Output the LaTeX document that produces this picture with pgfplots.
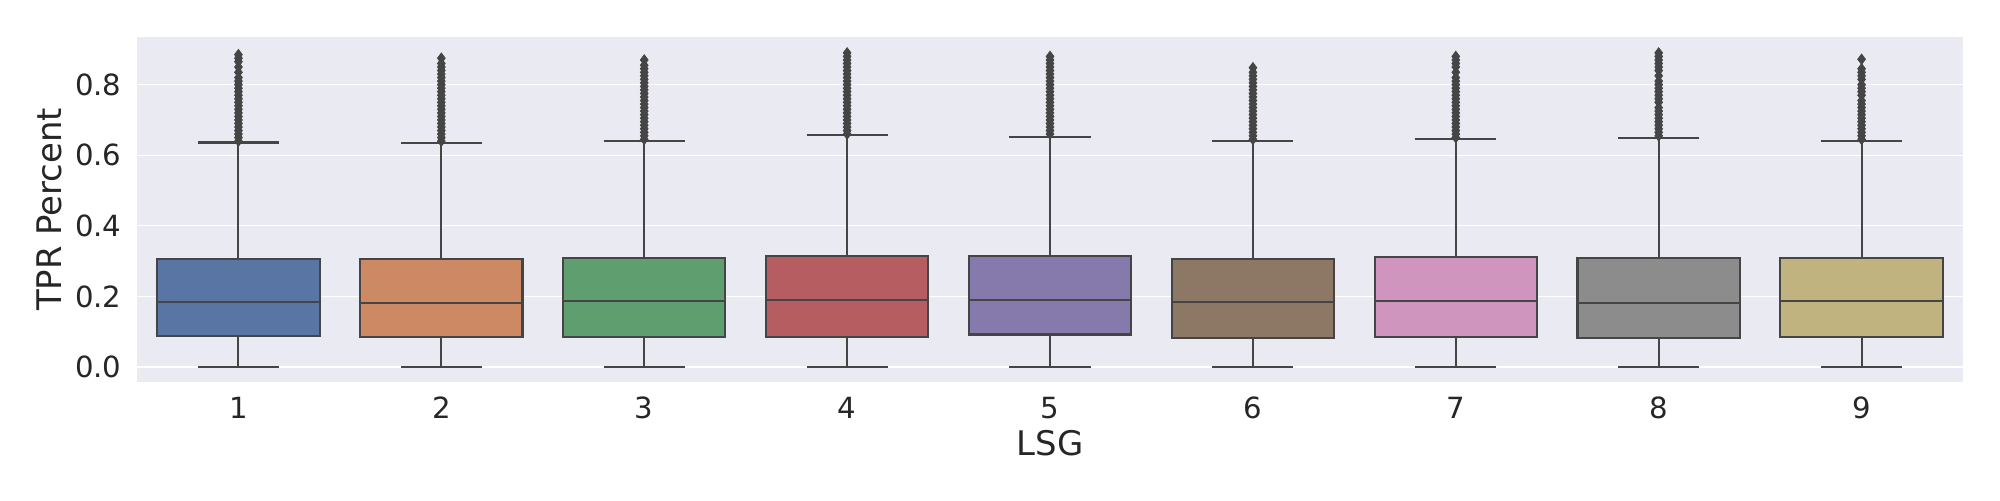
\documentclass[border=0pt]{standalone}
\usepackage{pgfplots}
\pgfplotsset{compat=1.18}
\usepgfplotslibrary{statistics}
\usepackage{fontspec}
\setmainfont{DejaVu Sans}

\definecolor{bgc}{HTML}{EAEAF2}
\definecolor{linec}{HTML}{454545}
\definecolor{c1}{HTML}{5975A4}
\definecolor{c2}{HTML}{CC8963}
\definecolor{c3}{HTML}{5F9E6E}
\definecolor{c4}{HTML}{B55D60}
\definecolor{c5}{HTML}{857AAB}
\definecolor{c6}{HTML}{8D7866}
\definecolor{c7}{HTML}{D095BF}
\definecolor{c8}{HTML}{8C8C8C}
\definecolor{c9}{HTML}{C1B37F}

\pgfplotsset{
    sbox/.style={
        draw=linec, line width=0.75pt, fill=#1,
        mark=diamond*, mark size=1.85pt,
        mark options={fill=linec, draw=linec, line width=0.3pt},
        boxplot/draw direction=y,
        boxplot/box extend=0.8,
        boxplot/whisker extend=0.4,
    },
}

\begin{document}
\begin{tikzpicture}
\begin{axis}[
    scale only axis,
    width=657.36pt, height=124.2pt,
    xmin=0.5, xmax=9.5,
    ymin=-0.0425, ymax=0.935,
    xtick={1,2,3,4,5,6,7,8,9},
    ytick={0,0.2,0.4,0.6,0.8},
    /pgf/number format/assume math mode=true,
    yticklabel style={/pgf/number format/fixed, /pgf/number format/fixed zerofill,
        /pgf/number format/precision=1, inner sep=0pt, anchor=east, xshift=-5.4pt,
        font=\fontsize{10.5}{12}\selectfont, text=black!85},
    xticklabel style={inner sep=0pt, anchor=base, yshift=-13.2pt,
        font=\fontsize{10.5}{12}\selectfont, text=black!85},
    major tick length=0pt,
    axis line style={draw=none},
    axis background/.style={fill=bgc},
    ymajorgrids,
    major grid style={white, line width=0.45pt},
    xlabel={LSG},
    ylabel={TPR Percent},
    every axis x label/.style={at={(rel axis cs:0.5,0)}, anchor=base, yshift=-26.6pt,
        font=\fontsize{12.2}{14}\selectfont, text=black!85},
    every axis y label/.style={at={(rel axis cs:0,0.5)}, xshift=-31.5pt, anchor=center, rotate=90,
        font=\fontsize{12.2}{14}\selectfont, text=black!85},
]
\coordinate (A) at (rel axis cs:0,0);
\coordinate (B) at (rel axis cs:1,1);

\addplot[sbox=c1, boxplot prepared={draw position=1,
    lower whisker=0.0, lower quartile=0.088, median=0.184,
    upper quartile=0.307, upper whisker=0.636}]
    table[row sep=\\, y index=0] {v\\0.64\\0.65\\0.66\\0.67\\0.68\\0.69\\0.70\\0.71\\0.72\\0.73\\0.74\\0.75\\0.76\\0.77\\0.78\\0.79\\0.80\\0.81\\0.82\\0.835\\0.85\\0.865\\0.875\\0.885\\};

\addplot[sbox=c2, boxplot prepared={draw position=2,
    lower whisker=0.0, lower quartile=0.086, median=0.181,
    upper quartile=0.306, upper whisker=0.635}]
    table[row sep=\\, y index=0] {v\\0.64\\0.65\\0.66\\0.67\\0.68\\0.69\\0.70\\0.71\\0.72\\0.73\\0.74\\0.75\\0.76\\0.77\\0.78\\0.79\\0.80\\0.81\\0.82\\0.83\\0.84\\0.85\\0.86\\0.875\\};

\addplot[sbox=c3, boxplot prepared={draw position=3,
    lower whisker=0.0, lower quartile=0.086, median=0.188,
    upper quartile=0.309, upper whisker=0.640}]
    table[row sep=\\, y index=0] {v\\0.645\\0.655\\0.665\\0.675\\0.685\\0.695\\0.705\\0.715\\0.725\\0.735\\0.745\\0.755\\0.765\\0.775\\0.785\\0.795\\0.805\\0.815\\0.825\\0.835\\0.845\\0.855\\0.87\\};

\addplot[sbox=c4, boxplot prepared={draw position=4,
    lower whisker=0.0, lower quartile=0.086, median=0.191,
    upper quartile=0.315, upper whisker=0.657}]
    table[row sep=\\, y index=0] {v\\0.66\\0.67\\0.68\\0.69\\0.70\\0.71\\0.72\\0.73\\0.74\\0.75\\0.76\\0.77\\0.78\\0.79\\0.80\\0.81\\0.82\\0.83\\0.84\\0.85\\0.86\\0.87\\0.88\\0.89\\};

\addplot[sbox=c5, boxplot prepared={draw position=5,
    lower whisker=0.0, lower quartile=0.092, median=0.191,
    upper quartile=0.315, upper whisker=0.652}]
    table[row sep=\\, y index=0] {v\\0.66\\0.67\\0.68\\0.69\\0.70\\0.71\\0.72\\0.73\\0.74\\0.75\\0.76\\0.77\\0.78\\0.79\\0.80\\0.81\\0.82\\0.83\\0.84\\0.85\\0.86\\0.87\\0.88\\};

\addplot[sbox=c6, boxplot prepared={draw position=6,
    lower whisker=0.0, lower quartile=0.082, median=0.184,
    upper quartile=0.306, upper whisker=0.640}]
    table[row sep=\\, y index=0] {v\\0.645\\0.655\\0.665\\0.675\\0.685\\0.695\\0.705\\0.715\\0.725\\0.735\\0.745\\0.755\\0.765\\0.775\\0.785\\0.795\\0.805\\0.815\\0.825\\0.835\\0.848\\};

\addplot[sbox=c7, boxplot prepared={draw position=7,
    lower whisker=0.0, lower quartile=0.086, median=0.188,
    upper quartile=0.312, upper whisker=0.646}]
    table[row sep=\\, y index=0] {v\\0.65\\0.66\\0.67\\0.68\\0.69\\0.70\\0.71\\0.72\\0.73\\0.74\\0.75\\0.76\\0.77\\0.78\\0.79\\0.80\\0.81\\0.82\\0.835\\0.85\\0.86\\0.87\\0.88\\};

\addplot[sbox=c8, boxplot prepared={draw position=8,
    lower whisker=0.0, lower quartile=0.083, median=0.181,
    upper quartile=0.309, upper whisker=0.650}]
    table[row sep=\\, y index=0] {v\\0.655\\0.665\\0.675\\0.685\\0.695\\0.705\\0.715\\0.725\\0.735\\0.75\\0.76\\0.77\\0.78\\0.79\\0.80\\0.81\\0.825\\0.84\\0.85\\0.86\\0.87\\0.88\\0.89\\};

\addplot[sbox=c9, boxplot prepared={draw position=9,
    lower whisker=0.0, lower quartile=0.086, median=0.187,
    upper quartile=0.309, upper whisker=0.641}]
    table[row sep=\\, y index=0] {v\\0.645\\0.655\\0.665\\0.675\\0.685\\0.695\\0.705\\0.715\\0.725\\0.735\\0.745\\0.755\\0.77\\0.78\\0.79\\0.80\\0.815\\0.825\\0.835\\0.845\\0.872\\};
\end{axis}
\pgfresetboundingbox
\path ([shift={(-49.32pt,-42.48pt)}]A) rectangle ([shift={(13.32pt,13.32pt)}]B);
\end{tikzpicture}
\end{document}
